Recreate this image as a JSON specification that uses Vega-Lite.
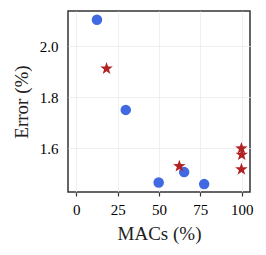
{
  "$schema": "https://vega.github.io/schema/vega-lite/v6.json",
  "width": 182,
  "height": 181,
  "padding": {"left": 12, "top": 11, "right": 14, "bottom": 5},
  "config": {
    "font": "Liberation Serif",
    "view": {"stroke": "#333333", "strokeWidth": 1.5},
    "axis": {"grid": true, "gridColor": "#ebebeb", "gridWidth": 0.8, "domain": false, "labelFont": "Liberation Serif", "titleFont": "Liberation Serif", "labelFontSize": 15, "titleFontSize": 19, "titleFontWeight": "normal", "labelColor": "#000", "titleColor": "#222"}
  },
  "data": {"values": [
    {"macs": 12.5, "error": 2.104, "method": "A"},
    {"macs": 29.9, "error": 1.75, "method": "A"},
    {"macs": 49.8, "error": 1.465, "method": "A"},
    {"macs": 65.2, "error": 1.506, "method": "A"},
    {"macs": 77.3, "error": 1.459, "method": "A"},
    {"macs": 18.3, "error": 1.912, "method": "B"},
    {"macs": 62.3, "error": 1.529, "method": "B"},
    {"macs": 99.8, "error": 1.599, "method": "B"},
    {"macs": 100, "error": 1.574, "method": "B"},
    {"macs": 99.8, "error": 1.517, "method": "B"}
  ]},
  "mark": {"type": "point", "filled": true, "opacity": 1},
  "encoding": {
    "x": {"field": "macs", "type": "quantitative", "title": "MACs (%)",
      "scale": {"domain": [-5, 105], "nice": false, "zero": false},
      "axis": {"values": [0, 25, 50, 75, 100], "ticks": true, "tickSize": 4, "tickColor": "#333", "tickWidth": 1.2, "labelPadding": 6, "titlePadding": 7}},
    "y": {"field": "error", "type": "quantitative", "title": "Error (%)",
      "scale": {"domain": [1.428, 2.138], "nice": false, "zero": false},
      "axis": {"values": [1.6, 1.8, 2.0], "format": ".1f", "ticks": false, "labelPadding": 10, "titlePadding": 8}},
    "shape": {"field": "method", "type": "nominal", "scale": {"domain": ["A", "B"], "range": ["circle", "M0,-1.1L0.26,-0.36L1.05,-0.34L0.42,0.14L0.65,0.9L0,0.45L-0.65,0.9L-0.42,0.14L-1.05,-0.34L-0.26,-0.36Z"]}, "legend": null},
    "color": {"field": "method", "type": "nominal", "scale": {"domain": ["A", "B"], "range": ["#4169e1", "#b22222"]}, "legend": null},
    "size": {"field": "method", "type": "nominal", "scale": {"domain": ["A", "B"], "range": [110, 140]}, "legend": null}
  }
}
